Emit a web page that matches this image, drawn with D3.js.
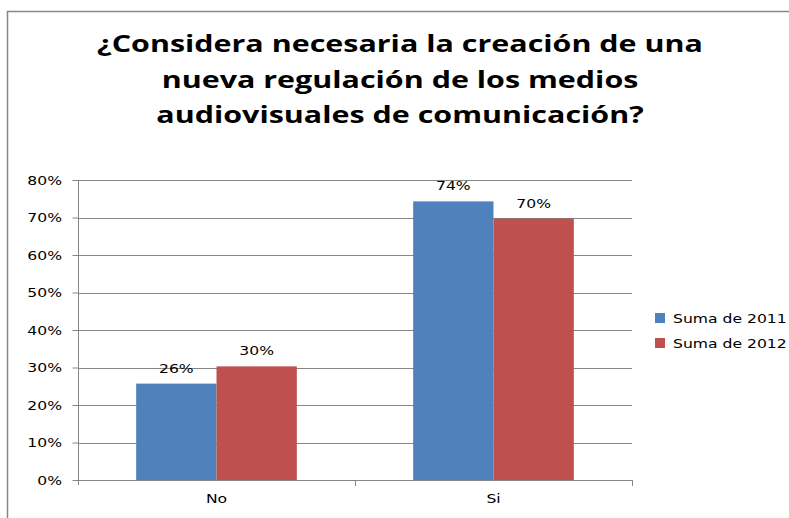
<!DOCTYPE html>
<html><head><meta charset="utf-8">
<script src="https://cdn.jsdelivr.net/npm/d3@7"></script>
<style>body{margin:0;background:#fff}svg{display:block}</style>
</head><body>
<svg id="c" width="789" height="518"></svg>
<script>
const categories = ["No", "Si"];
const seriesNames = ["Suma de 2011", "Suma de 2012"];
const values2011 = [0.257, 0.743];
const values2012 = [0.303, 0.697];
const labels2011 = ["26%", "74%"];
const labels2012 = ["30%", "70%"];
const yTicks = [0, 0.1, 0.2, 0.3, 0.4, 0.5, 0.6, 0.7, 0.8];
const titleLines = ["¿Considera necesaria la creación de una", "nueva regulación de los medios", "audiovisuales de comunicación?"];
const colors = ["#4F81BD", "#C0504D"];

const SX = 1.25; // horizontal stretch of small text
const FONT = "DejaVu Sans, Verdana, sans-serif";
const FS = 12.5;

const svg = d3.select("#c");
// outer chart border
svg.append("rect").attr("x", 7.5).attr("y", 11.5).attr("width", 800).attr("height", 520)
  .attr("fill", "#fff").attr("stroke", "#868686").attr("stroke-width", 1.5);

const m = {left: 78, right: 632, top: 180, bottom: 480};
const x0 = d3.scaleBand().domain(categories).range([m.left, m.right]).paddingInner(0.42).paddingOuter(0.21);
const x1 = d3.scaleBand().domain([0, 1]).range([0, x0.bandwidth()]);
const y = d3.scaleLinear().domain([0, 0.8]).range([m.bottom, m.top]);

// gridlines
svg.append("g").selectAll("line").data(yTicks.slice(1)).join("line")
  .attr("x1", m.left).attr("x2", m.right).attr("y1", d => Math.round(y(d)) + 0.5).attr("y2", d => Math.round(y(d)) + 0.5)
  .attr("stroke", "#868686").attr("stroke-width", 1);

// y axis
const yAxis = d3.axisLeft(y).tickValues(yTicks).tickFormat(d3.format(".0%")).tickSize(6).tickPadding(10);
const gy = svg.append("g").attr("transform", `translate(${m.left + 0.5},0)`).call(yAxis);
gy.select(".domain").attr("stroke", "#868686").attr("d", `M0,${m.top}V${m.bottom + 5}`);
gy.selectAll(".tick line").attr("stroke", "#868686");
gy.selectAll(".tick text").attr("font-family", FONT).attr("font-size", FS).attr("fill", "#000")
  .attr("x", -16.5 / SX).attr("transform", `scale(${SX},1)`);

// bars
const data = categories.map((c, i) => ({c, v: [values2011[i], values2012[i]], l: [labels2011[i], labels2012[i]]}));
const grp = svg.append("g").selectAll("g").data(data).join("g").attr("transform", d => `translate(${x0(d.c)},0)`);
grp.selectAll("rect").data(d => d.v.map((v, s) => ({v, s}))).join("rect")
  .attr("x", d => x1(d.s)).attr("width", x1.bandwidth())
  .attr("y", d => y(d.v)).attr("height", d => y(0) - y(d.v)).attr("fill", d => colors[d.s]);
grp.selectAll("text").data(d => d.v.map((v, s) => ({v, s, l: d.l[s]}))).join("text")
  .attr("transform", d => `translate(${x1(d.s) + x1.bandwidth() / 2},${y(d.v) - 11}) scale(${SX},1)`)
  .attr("text-anchor", "middle").attr("font-family", FONT).attr("font-size", FS)
  .attr("fill", "#000").text(d => d.l);

// x axis
const xAxis = d3.axisBottom(x0).tickSize(0).tickPadding(14);
const gx = svg.append("g").attr("transform", `translate(0,${m.bottom + 0.5})`).call(xAxis);
gx.select(".domain").attr("stroke", "#868686").attr("d", `M${m.left},0H${m.right}`);
gx.selectAll(".tick text").attr("font-family", FONT).attr("font-size", FS).attr("fill", "#000")
  .attr("transform", `scale(${SX},1)`);
gx.selectAll(".tick").attr("transform", d => `translate(${x0(d) + x0.bandwidth() / 2},0)`);
// category separator ticks
const sep = [(x0("No") + x0.bandwidth() + x0("Si")) / 2, m.right];
svg.append("g").selectAll("line").data(sep).join("line")
  .attr("x1", d => Math.round(d) + 0.5).attr("x2", d => Math.round(d) + 0.5)
  .attr("y1", m.bottom).attr("y2", m.bottom + 6).attr("stroke", "#868686");

// title
const tg = svg.append("g").selectAll("g").data(titleLines).join("g")
  .attr("transform", (d, i) => `translate(400,${52 + i * 35.5})`);
const tt = tg.append("text").attr("text-anchor", "middle")
  .attr("font-family", "Open Sans, Liberation Sans, sans-serif").attr("font-weight", "bold")
  .attr("font-size", 23.5).attr("fill", "#000").text(d => d);
const w0 = tt.node().getComputedTextLength();
const tsx = 606 / w0;
tt.attr("transform", `scale(${tsx},1)`);

// legend
const lg = svg.append("g").selectAll("g").data(seriesNames).join("g")
  .attr("transform", (d, i) => `translate(655,${313 + i * 25})`);
lg.append("rect").attr("width", 10).attr("height", 10).attr("fill", (d, i) => colors[i]);
lg.append("text").attr("transform", `translate(18,10) scale(${SX},1)`).attr("font-family", FONT)
  .attr("font-size", FS).attr("fill", "#000").text(d => d);
</script>
</body></html>
